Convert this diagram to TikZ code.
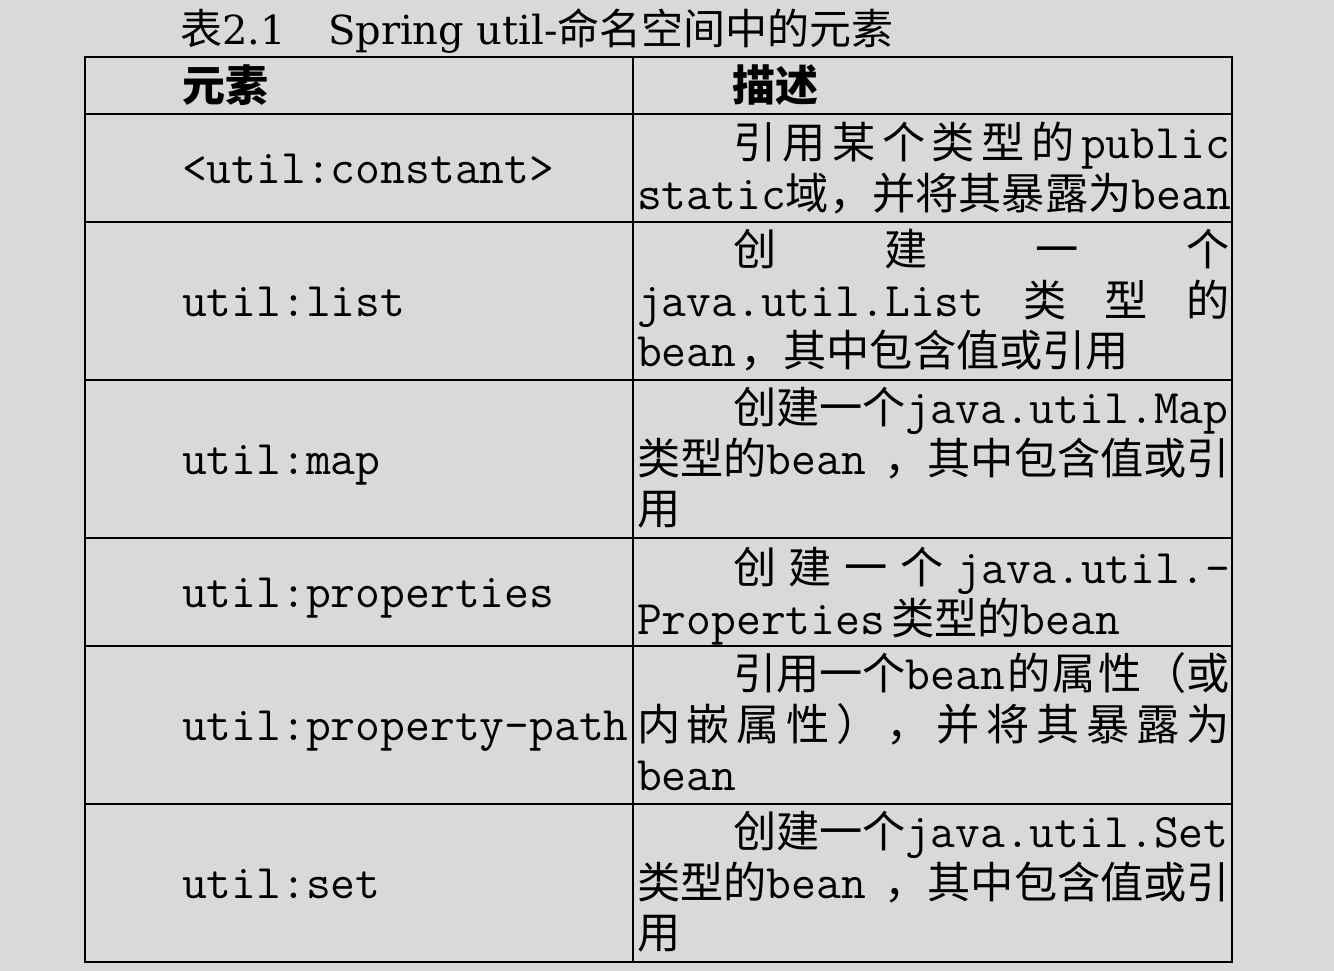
\documentclass[tikz,border=0pt]{standalone}
\usepackage{fontspec}
\setmainfont{DejaVu Serif}
\newfontfamily\cjk{Noto Sans CJK SC}
\newfontfamily\titleserif{DejaVu Serif}
\definecolor{bgc}{RGB}{217,217,217}
\newcommand\zt[1]{{\fontsize{48.2}{50}\selectfont\ttfamily #1}}
\newcommand\cjkfs{\fontsize{43.2}{50}\selectfont\cjk}
\tikzset{
  txt/.style={anchor=base west, inner sep=0pt, outer sep=0pt},
  desc/.style={txt, font=\cjkfs},
  elem/.style={txt, font=\fontsize{48.2}{50}\selectfont\ttfamily},
  head/.style={txt, font=\fontsize{43}{50}\selectfont\cjk\bfseries},
  grid/.style={line width=1.4pt, black}
}
\begin{document}
\begin{tikzpicture}[x=1pt,y=-1pt]
\fill[bgc] (0,0) rectangle (1334,971);
\useasboundingbox (0,0) rectangle (1334,971);
% title
\node[txt, font=\fontsize{40}{48}\selectfont\titleserif] (t1) at (180,45) {{\fontsize{42}{48}\selectfont\cjk 表}2.1};
\node[txt, font=\fontsize{40}{48}\selectfont\titleserif] (t2) at (328,45) {Spring util-{\fontsize{42}{48}\selectfont\cjk 命名空间中的元素}};
% table grid
\draw[grid] (85,57) rectangle (1232,962);
\foreach \yy in {114,222,380,538,646,804} \draw[grid] (85,\yy) -- (1232,\yy);
\draw[grid] (633,57) -- (633,962);
% header
\node[head] (h1) at (182,102) {元素};
\node[head] (h2) at (732,102) {描述};
% element column
\node[elem] (e1) at (182,183) {<util:constant>};
\node[elem] (e2) at (182,316) {util:list};
\node[elem] (e3) at (182,474) {util:map};
\node[elem] (e4) at (182,607) {util:properties};
\node[elem] (e5) at (182,740) {util:property-path};
\node[elem] (e6) at (182,898) {util:set};
% descriptions
\node[desc] (d1a) at (733,159) {\makebox[497pt][s]{引\hfill 用\hfill 某\hfill 个\hfill 类\hfill 型\hfill 的\hfill\zt{public}}};
\node[desc] (d1b) at (637,210) {\makebox[593pt][s]{\zt{static}\hfill 域，并将其暴露为\zt{bean}}};
\node[desc] (d2a) at (733,265) {\makebox[497pt][s]{创\hfill 建\hfill 一\hfill 个}};
\node[desc] (d2b) at (637,316) {\makebox[593pt][s]{\zt{java.util.List}\hfill 类\hfill 型\hfill 的}};
\node[desc] (d2c) at (637,366) {\zt{bean}\hspace{4pt}，其中包含值或引用};
\node[desc] (d3a) at (733,423) {创建一个\zt{java.util.Map}};
\node[desc] (d3b) at (637,474) {\makebox[593pt][s]{类型的\zt{bean}\hfill，其中包含值或引}};
\node[desc] (d3c) at (637,524) {用};
\node[desc] (d4a) at (733,583) {\makebox[497pt][s]{创\hfill 建\hfill 一\hfill 个\hfill\zt{java.util.-}}};
\node[desc] (d4b) at (637,634) {\zt{Properties}\hspace{6pt}类型的\zt{bean}};
\node[desc] (d5a) at (733,689) {\makebox[497pt][s]{引用一个\zt{bean}\hfill 的\hfill 属\hfill 性\hfill （或}};
\node[desc] (d5b) at (637,740) {\makebox[593pt][s]{内\hfill 嵌\hfill 属\hfill 性\hfill ）\hfill ，\hfill 并\hfill 将\hfill 其\hfill 暴\hfill 露\hfill 为}};
\node[desc] (d5c) at (637,790) {\zt{bean}};
\node[desc] (d6a) at (733,847) {创建一个\zt{java.util.Set}};
\node[desc] (d6b) at (637,898) {\makebox[593pt][s]{类型的\zt{bean}\hfill，其中包含值或引}};
\node[desc] (d6c) at (637,948) {用};
\end{tikzpicture}
\end{document}
